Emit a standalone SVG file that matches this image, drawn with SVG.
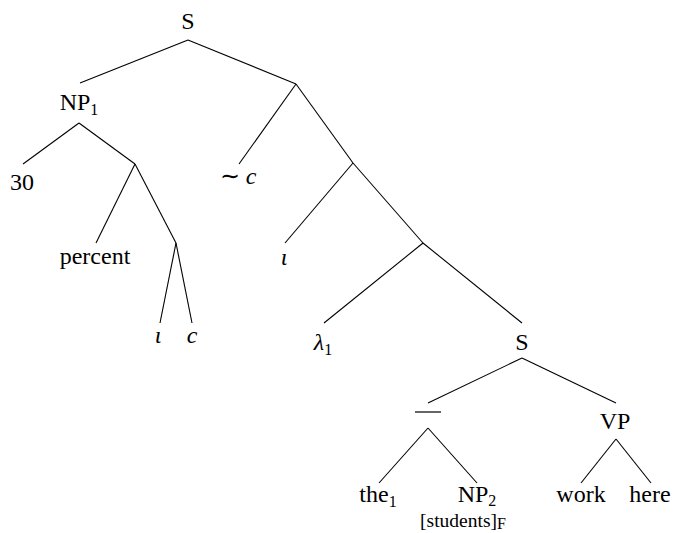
<svg xmlns="http://www.w3.org/2000/svg" width="673" height="533" viewBox="0 0 673 533">
<style>
text{font-family:"Liberation Serif","Times New Roman",serif;font-size:24px;fill:#000;text-anchor:middle}
.it{font-style:italic}
.sub{font-size:16px}
.small{font-size:19.5px}
#edges line{stroke:#000;stroke-width:1.1}
</style>
<rect width="673" height="533" fill="#fff"/>
<g id="edges">
<line x1="188" y1="40" x2="80" y2="83"/>
<line x1="188" y1="40" x2="296" y2="84"/>
<line x1="79" y1="123" x2="23" y2="164"/>
<line x1="79" y1="123" x2="135" y2="164"/>
<line x1="135" y1="164" x2="96" y2="243"/>
<line x1="135" y1="164" x2="176" y2="243"/>
<line x1="176" y1="243" x2="160" y2="323"/>
<line x1="176" y1="243" x2="192" y2="323"/>
<line x1="296" y1="84" x2="239" y2="164"/>
<line x1="296" y1="84" x2="353" y2="163"/>
<line x1="353" y1="163" x2="285" y2="243"/>
<line x1="353" y1="163" x2="423" y2="243"/>
<line x1="423" y1="243" x2="324" y2="323"/>
<line x1="423" y1="243" x2="522" y2="323"/>
<line x1="522" y1="358" x2="428" y2="403"/>
<line x1="522" y1="358" x2="616" y2="403"/>
<line x1="428" y1="428" x2="379" y2="483"/>
<line x1="428" y1="428" x2="477" y2="483"/>
<line x1="616" y1="439" x2="581" y2="483"/>
<line x1="616" y1="439" x2="651" y2="483"/>
</g>
<g id="S_top"><text x="188" y="29">S</text></g>
<g id="NP1"><text x="79" y="110">NP<tspan class="sub" dy="5">1</tspan></text></g>
<g id="n30"><text x="22" y="190">30</text></g>
<g id="percent"><text x="95" y="264">percent</text></g>
<g id="iota1"><text class="it" x="158" y="343">ι</text></g>
<g id="c1"><text class="it" x="192" y="343">c</text></g>
<g id="tilde_c"><text x="238" y="184">∼ <tspan class="it">c</tspan></text></g>
<g id="iota2"><text class="it" x="284" y="265">ι</text></g>
<g id="lambda1"><text x="323" y="350"><tspan class="it">λ</tspan><tspan class="sub" dy="5">1</tspan></text></g>
<g id="S_low"><text x="522" y="350">S</text></g>
<g id="bar"><line x1="415" y1="412" x2="441" y2="412" stroke="#000" stroke-width="1.2"/></g>
<g id="VP"><text x="615" y="429">VP</text></g>
<g id="the1"><text x="378" y="502">the<tspan class="sub" dy="5">1</tspan></text></g>
<g id="NP2"><text x="477" y="502">NP<tspan class="sub" dy="4">2</tspan></text><text class="small" x="463" y="527">[students]<tspan class="sub" font-size="14" dy="2">F</tspan></text></g>
<g id="work"><text x="581" y="502">work</text></g>
<g id="here"><text x="650" y="502">here</text></g>
</svg>
